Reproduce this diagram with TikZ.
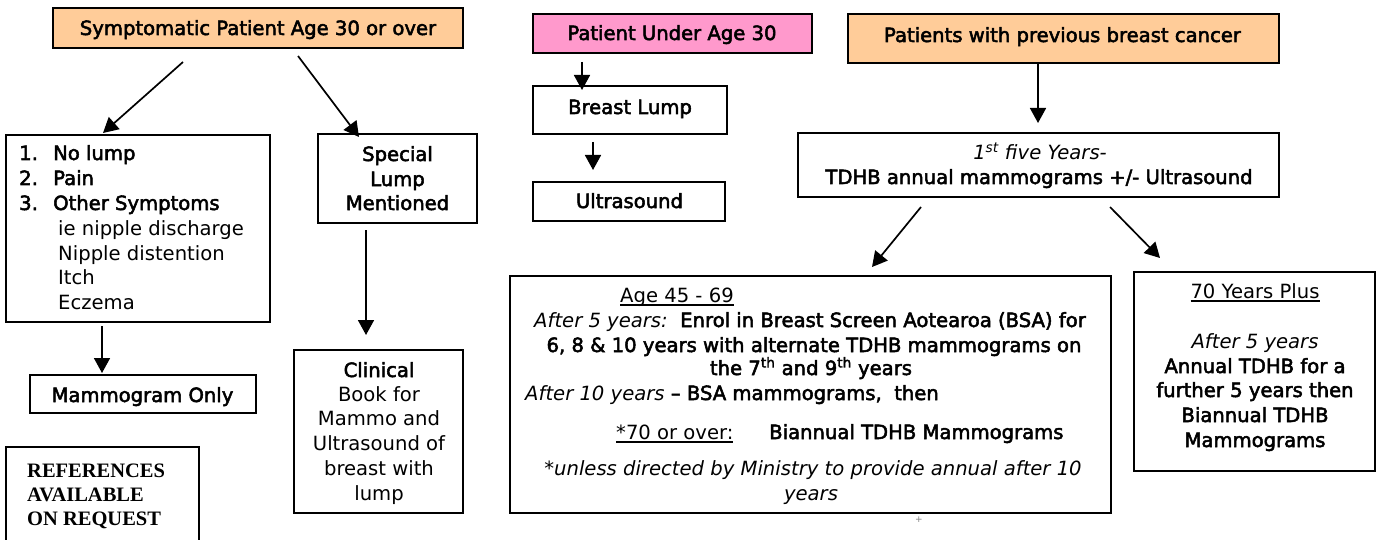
\documentclass[tikz,border=0pt]{standalone}
\usepackage{fontspec}
\setmainfont{DejaVu Sans}
\newfontfamily\bx[FakeBold=2.6]{DejaVu Sans}
\newfontfamily\refsfont{Liberation Serif}
\usetikzlibrary{arrows.meta}
\definecolor{boxorange}{HTML}{FFCC99}
\definecolor{boxpink}{HTML}{FF99CC}
\newcommand\sz{\fontsize{19.6}{24.7}\selectfont}
\newcommand\ulx[1]{\setbox0=\hbox{#1}\rlap{\rule[-4pt]{\wd0}{1.8pt}}\box0}
\tikzset{
  box/.style={draw=black, line width=1.9pt, inner sep=0pt},
  arr/.style={line width=1.7pt, -{Triangle[length=15pt,width=16pt]}},
  tx/.style={inner sep=0pt, anchor=base, font=\sz},
  tb/.style={inner sep=0pt, anchor=base, font=\sz\bx},
  tl/.style={inner sep=0pt, anchor=base west, font=\sz},
  tlb/.style={inner sep=0pt, anchor=base west, font=\sz\bx},
  rf/.style={inner sep=0pt, anchor=base west, font=\fontsize{20.5}{24}\selectfont\refsfont\bfseries},
}
\begin{document}
\begin{tikzpicture}[x=1pt,y=-1pt]
\useasboundingbox (0,0) rectangle (1383,540);
\clip (0,0) rectangle (1383,540);
\fill[white] (0,0) rectangle (1383,540);

% ---------- boxes ----------
\node[box, fill=boxorange, minimum width=410, minimum height=40] (sym) at (258,28) {};
\node[box, minimum width=264, minimum height=187] (list) at (138,228.5) {};
\node[box, minimum width=159, minimum height=89] (spec) at (397.5,178.5) {};
\node[box, minimum width=169, minimum height=163] (clin) at (378.5,431.5) {};
\node[box, minimum width=226, minimum height=38] (mammo) at (143,394) {};
\node[box, minimum width=193, minimum height=113] (refs) at (102.5,503.5) {};
\node[box, fill=boxpink, minimum width=279, minimum height=39] (pink) at (672.5,33.5) {};
\node[box, minimum width=194, minimum height=48] (lump) at (630,110) {};
\node[box, minimum width=192, minimum height=39] (ultra) at (629,201.5) {};
\node[box, fill=boxorange, minimum width=431, minimum height=49] (prev) at (1063.5,38.5) {};
\node[box, minimum width=481, minimum height=64] (five) at (1038.5,165) {};
\node[box, minimum width=601, minimum height=237] (big) at (810.5,394.5) {};
\node[box, minimum width=241, minimum height=199] (seventy) at (1254.5,371.5) {};

% ---------- texts ----------
\node[tb] (symt) at (258,35) {Symptomatic Patient Age 30 or over};

\node[tlb] (n1) at (19,160) {1.};
\node[tlb] (i1) at (53,160) {No lump};
\node[tlb] (n2) at (19,185) {2.};
\node[tlb] (i2) at (53,185) {Pain};
\node[tlb] (n3) at (19,210) {3.};
\node[tlb] (i3) at (53,210) {Other Symptoms};
\node[tl] (s1) at (58,235) {ie nipple discharge};
\node[tl] (s2) at (58,260) {Nipple distention};
\node[tl] (s3) at (58,284) {Itch};
\node[tl] (s4) at (58,309) {Eczema};

\node[tb] (sp1) at (397.5,161) {Special};
\node[tb] (sp2) at (397.5,186) {Lump};
\node[tb] (sp3) at (397.5,210) {Mentioned};

\node[tb] (mamt) at (142.5,402) {Mammogram Only};

\node[tb] (c1) at (379,377) {Clinical};
\node[tx] (c2) at (379,401) {Book for};
\node[tx] (c3) at (379,425) {Mammo and};
\node[tx] (c4) at (379,450) {Ultrasound of};
\node[tx] (c5) at (379,475) {breast with};
\node[tx] (c6) at (379,500) {lump};

\node[rf] (r1) at (27,477) {REFERENCES};
\node[rf] (r2) at (27,501) {AVAILABLE};
\node[rf] (r3) at (27,525) {ON REQUEST};

\node[tb] (pinkt) at (672,40) {Patient Under Age 30};
\node[tb] (lumpt) at (630,114) {Breast Lump};
\node[tb] (ultrat) at (629.5,208) {Ultrasound};

\node[tb] (prevt) at (1062.5,42) {Patients with previous breast cancer};
\node[tx] (f1) at (1040,160) {\itshape 1\textsuperscript{st} five Years-};
\node[tb] (f2) at (1039,184) {TDHB annual mammograms +/- Ultrasound};

\node[tl] (g1) at (620,302) {\ulx{Age 45 - 69}};
\node[tx] (g2) at (810,327) {{\itshape After 5 years:}\ \ {\bx Enrol in Breast Screen Aotearoa (BSA) for}};
\node[tb] (g3) at (814,352) {6, 8 \& 10 years with alternate TDHB mammograms on};
\node[tb] (g4) at (811,375) {the 7\textsuperscript{th} and 9\textsuperscript{th} years};
\node[tl] (g5) at (525,400) {{\itshape After 10 years} {\bx – BSA mammograms,\ \ then}};
\node[tl] (g6) at (616,439) {\ulx{*70 or over:}};
\node[tlb] (g7) at (769,439) {Biannual TDHB Mammograms};
\node[tx] (g8) at (813,475) {\itshape *unless directed by Ministry to provide annual after 10};
\node[tx] (g9) at (811,500) {\itshape years};

\node[tx] (v1) at (1255,298) {\ulx{70 Years Plus}};
\node[tx] (v2) at (1255,348) {\itshape After 5 years};
\node[tb] (v3) at (1255,373) {Annual TDHB for a};
\node[tb] (v4) at (1255,397) {further 5 years then};
\node[tb] (v5) at (1255,422) {Biannual TDHB};
\node[tb] (v6) at (1255,447) {Mammograms};

\node[inner sep=0pt, font=\fontsize{9}{9}\selectfont, text=gray] (plus) at (919,520) {+};

% ---------- connectors ----------
\coordinate (a1s) at (183,62);   \coordinate (a1e) at (103,133);
\coordinate (a2s) at (298,56);   \coordinate (a2e) at (359,137);
\coordinate (a3s) at (366,230);  \coordinate (a3e) at (366,335);
\coordinate (a4s) at (102,326);  \coordinate (a4e) at (102,373);
\coordinate (a5s) at (582,62);   \coordinate (a5e) at (582,90);
\coordinate (a6s) at (593,142);  \coordinate (a6e) at (593,170);
\coordinate (a7s) at (1038,63);  \coordinate (a7e) at (1038,123);
\coordinate (a8s) at (921,207);  \coordinate (a8e) at (872,267);
\coordinate (a9s) at (1110,207); \coordinate (a9e) at (1160,258);
\foreach \s/\e in {a1s/a1e,a2s/a2e,a3s/a3e,a4s/a4e,a5s/a5e,a6s/a6e,a7s/a7e,a8s/a8e,a9s/a9e}
  \draw[arr] (\s) -- (\e);
\end{tikzpicture}
\end{document}
